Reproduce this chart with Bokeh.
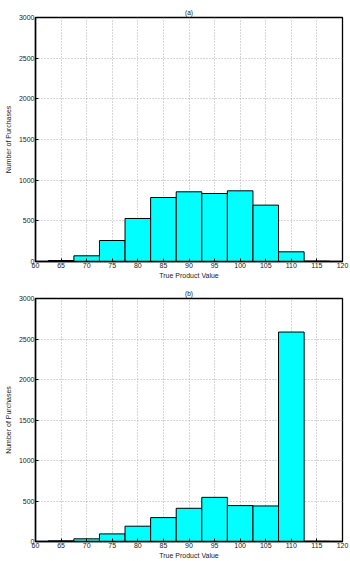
from bokeh.plotting import figure
from bokeh.layouts import column
from bokeh.models import FixedTicker, Range1d
from bokeh.embed import file_html
from bokeh.resources import INLINE

bin_centers = [65, 70, 75, 80, 85, 90, 95, 100, 105, 110, 115]
counts_a = [12, 70, 258, 529, 787, 857, 836, 869, 693, 119, 4]
counts_b = [8, 33, 94, 189, 295, 410, 545, 443, 439, 2586, 2]
x_ticks = [60, 65, 70, 75, 80, 85, 90, 95, 100, 105, 110, 115, 120]
y_ticks = [0, 500, 1000, 1500, 2000, 2500, 3000]
x_label = "True Product Value"
y_label = "Number of Purchases"
FONT = "Liberation Sans"


def make(counts, title, height, top_border, bottom_border, right_border):
    p = figure(width=350, height=height, x_range=Range1d(60, 120), y_range=Range1d(0, 3000),
               output_backend="svg", toolbar_location=None,
               min_border_left=35, min_border_right=right_border,
               min_border_top=top_border, min_border_bottom=bottom_border)
    p.title.text = title
    p.title.align = "center"
    p.title.text_font_size = "6.5px"
    p.title.text_font = FONT
    p.title.text_font_style = "normal"
    p.title.text_color = "#222222"
    p.title.standoff = 3
    p.title.offset = 0
    p.vbar(x=bin_centers, top=counts, width=5, bottom=0,
           fill_color="#00FFFF", line_color="black", line_width=1)
    p.outline_line_color = "black"
    p.outline_line_width = 1.3
    p.background_fill_color = "white"
    p.border_fill_color = "white"
    for ax in (p.xaxis[0], p.yaxis[0]):
        ax.major_tick_in = 3
        ax.major_tick_out = 0
        ax.minor_tick_in = 0
        ax.minor_tick_out = 0
        ax.major_label_text_font_size = "7px"
        ax.major_label_text_font = FONT
        ax.major_label_text_color = "#222222"
        ax.axis_label_text_font_size = "7px"
        ax.axis_label_text_font = FONT
        ax.axis_label_text_color = "#222222"
        ax.axis_label_text_font_style = "normal"
        ax.axis_label_standoff = 1
        ax.major_label_standoff = 1
        ax.axis_line_color = "black"
        ax.axis_line_width = 1.5
    p.xaxis[0].ticker = FixedTicker(ticks=x_ticks)
    p.yaxis[0].ticker = FixedTicker(ticks=y_ticks)
    p.xaxis[0].axis_label = x_label
    p.yaxis[0].axis_label = y_label
    p.yaxis[0].axis_label_standoff = 4
    p.xgrid[0].ticker = FixedTicker(ticks=x_ticks)
    p.ygrid[0].ticker = FixedTicker(ticks=y_ticks)
    for g in (p.xgrid[0], p.ygrid[0]):
        g.grid_line_color = "#999999"
        g.grid_line_dash = "1 2"
        g.grid_line_width = 0.8
        g.level = "underlay"
    return p


pa = make(counts_a, "(a)", 281, 17, 19, 5)
pb = make(counts_b, "(b)", 280, 17, 19, 8)
layout = column(pa, pb, spacing=0)
open("out.html", "w").write(file_html(layout, INLINE))
